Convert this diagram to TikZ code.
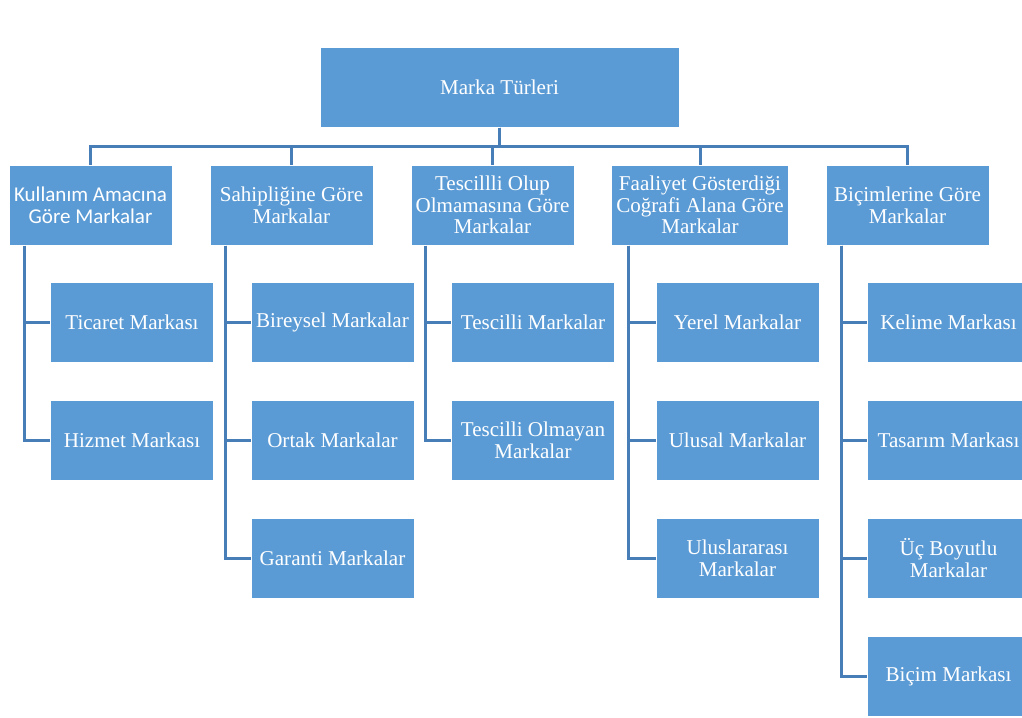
\documentclass[tikz,border=0pt]{standalone}
\usepackage{fontspec}
\setmainfont{Liberation Serif}
\newfontfamily\calibri{Carlito}
\usepackage{tikz}
\usetikzlibrary{arrows.meta,positioning}

\definecolor{boxblue}{RGB}{91,155,213}
\definecolor{linkblue}{RGB}{72,126,184}

\tikzset{
	kutu/.style={fill=boxblue,draw=white,line width=0.75pt,text=white,align=center,inner sep=0pt,
		minimum width=122.25pt,minimum height=60pt,font=\fontsize{15.8}{16.2}\selectfont},
	link/.style={draw=linkblue,line width=2.25pt}
}

\begin{document}
\begin{tikzpicture}[x=0.75pt,y=-0.75pt]
			\clip (0,0) rectangle (1022,718);
			% ana kutu
			\node[kutu,minimum width=269.25pt] (tur) at (499.5,87) {Marka Türleri};
			% ikinci seviye
			\node[kutu] (k1) at (90.5,205) {\calibri Kullanım Amacına\\\calibri Göre Markalar};
			\node[kutu] (k2) at (291.5,205) {Sahipliğine Göre\\Markalar};
			\node[kutu] (k3) at (492.5,205) {Tescillli Olup\\Olmamasına Göre\\Markalar};
			\node[kutu,minimum width=132.75pt] (k4) at (700,205) {Faaliyet Gösterdiği\\Coğrafi Alana Göre\\Markalar};
			\node[kutu] (k5) at (907.5,205) {Biçimlerine Göre\\Markalar};
			% alt kutular
			\node[kutu] (c11) at (132,322.5) {Ticaret Markası};
			\node[kutu] (c12) at (132,440) {Hizmet Markası};
			\node[kutu] (c21) at (332.5,322.5) {Bireysel Markalar};
			\node[kutu] (c22) at (332.5,440) {Ortak Markalar};
			\node[kutu] (c23) at (332.5,558) {Garanti Markalar};
			\node[kutu] (c31) at (533,322.5) {Tescilli Markalar};
			\node[kutu] (c32) at (533,440) {Tescilli Olmayan\\Markalar};
			\node[kutu] (c41) at (737.5,322.5) {Yerel Markalar};
			\node[kutu] (c42) at (737.5,440) {Ulusal Markalar};
			\node[kutu] (c43) at (737.5,558) {Uluslararası\\Markalar};
			\node[kutu] (c51) at (948.5,322.5) {Kelime Markası};
			\node[kutu] (c52) at (948.5,440) {Tasarım Markası};
			\node[kutu] (c53) at (948.5,558) {Üç Boyutlu\\Markalar};
			\node[kutu] (c54) at (948.5,676) {Biçim Markası};
			% baglantilar
			\foreach \k in {1,...,5}
				\draw[link] (tur.south) -- ++(0,19) -| (k\k.north);
			\foreach \k/\c/\d in {1/1/16,1/2/16,2/1/16,2/2/16,2/3/16,3/1/15,3/2/15,4/1/17,4/2/17,4/3/17,5/1/16,5/2/16,5/3/16,5/4/16}
				\draw[link] (k\k.south west) ++(\d,0) |- (c\k\c.west);
		\end{tikzpicture}
\end{document}
